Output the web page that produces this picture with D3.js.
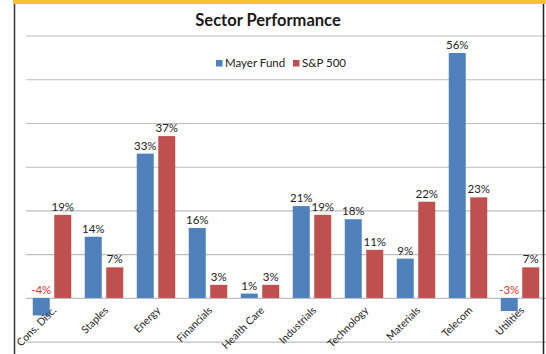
<!DOCTYPE html>
<html>
<head>
<meta charset="utf-8">
<script src="https://cdn.jsdelivr.net/npm/d3@7"></script>
<style>
  body { margin: 0; background: #fff; }
  text { font-family: Lato, "Open Sans", sans-serif; }
</style>
</head>
<body>
<div id="chart"></div>
<script>
// donnees du graphique
const sectors = ["Cons. Disc.", "Staples", "Energy", "Financials", "Health Care",
                 "Industrials", "Technology", "Materials", "Telecom", "Utilities"];
const mayerFund = [-4, 14, 33, 16, 1, 21, 18, 9, 56, -3];
const sp500 = [19, 7, 37, 3, 3, 19, 11, 22, 23, 7];
const seriesNames = ["Mayer Fund", "S&P 500"];
const yTicks = [-10, 0, 10, 20, 30, 40, 50, 60];

const W = 546, H = 354;
const colors = ["#4F81BD", "#C0504D"];

const svg = d3.select("#chart").append("svg")
    .attr("width", W).attr("height", H);

// bande jaune et bordures
svg.append("rect").attr("x", 13).attr("y", 0).attr("width", W - 13).attr("height", 4)
    .attr("fill", "#F8C230");
svg.append("line").attr("x1", 14.5).attr("x2", 14.5).attr("y1", 4).attr("y2", H)
    .attr("stroke", "#333").attr("stroke-width", 1.5);

// echelles
const x = d3.scaleBand().domain(sectors).range([26, 546]).paddingInner(0).paddingOuter(0);
const y = d3.scaleLinear().domain([-10, 60]).range([341.7, 35.5]);

const barW = 17, gap = 4.5;
const groupW = barW * 2 + gap;

// grille
svg.append("g")
    .attr("transform", "translate(26,0)")
    .call(d3.axisLeft(y).tickValues(yTicks).tickSize(-(W - 26)).tickFormat(""))
    .call(g => g.select(".domain").remove())
    .call(g => g.selectAll("line").attr("stroke", "#BDBDBD").attr("stroke-width", 1.2));

// titre
svg.append("text")
    .attr("x", 268).attr("y", 26)
    .attr("text-anchor", "middle")
    .attr("font-size", 16.5).attr("font-weight", "bold").attr("fill", "#1a1a1a")
    .text("Sector Performance");

// barres
const series = [mayerFund, sp500];
series.forEach(function(vals, s) {
    const xpos = function(d, i) {
        return x(sectors[i]) + (x.bandwidth() - groupW) / 2 + s * (barW + gap);
    };
    svg.append("g").selectAll("rect")
        .data(vals)
        .join("rect")
        .attr("x", xpos)
        .attr("y", function(d) { return y(Math.max(d, 0)); })
        .attr("width", barW)
        .attr("height", function(d) { return Math.abs(y(d) - y(0)); })
        .attr("fill", colors[s]);

    svg.append("g").selectAll("text")
        .data(vals)
        .join("text")
        .attr("x", function(d, i) { return xpos(d, i) + barW / 2; })
        .attr("y", function(d) { return y(Math.max(d, 0)) - 4; })
        .attr("text-anchor", "middle")
        .attr("font-size", 11.5)
        .attr("fill", function(d) { return d < 0 ? "#E8302A" : "#222"; })
        .text(function(d) { return d + "%"; });
});

// etiquettes de l'axe X
svg.append("g").selectAll("text")
    .data(sectors)
    .join("text")
    .attr("transform", function(d) {
        return `translate(${x(d) + x.bandwidth() / 2 + 5},${y(0) + 13}) rotate(-45)`;
    })
    .attr("text-anchor", "end")
    .attr("font-size", 10.5)
    .attr("fill", "#222")
    .text(function(d) { return d; });

// legende
const legend = svg.append("g");
const legX = [216, 293];
seriesNames.forEach(function(name, i) {
    legend.append("rect").attr("x", legX[i]).attr("y", 60).attr("width", 6.5).attr("height", 6.5)
        .attr("fill", colors[i]);
    legend.append("text").attr("x", legX[i] + 9).attr("y", 67)
        .attr("font-size", 11.5).attr("fill", "#222").text(name);
});

// bordure droite
svg.append("line").attr("x1", 543.5).attr("x2", 543.5).attr("y1", 4).attr("y2", H)
    .attr("stroke", "#222").attr("stroke-width", 1.5);
</script>
</body>
</html>
